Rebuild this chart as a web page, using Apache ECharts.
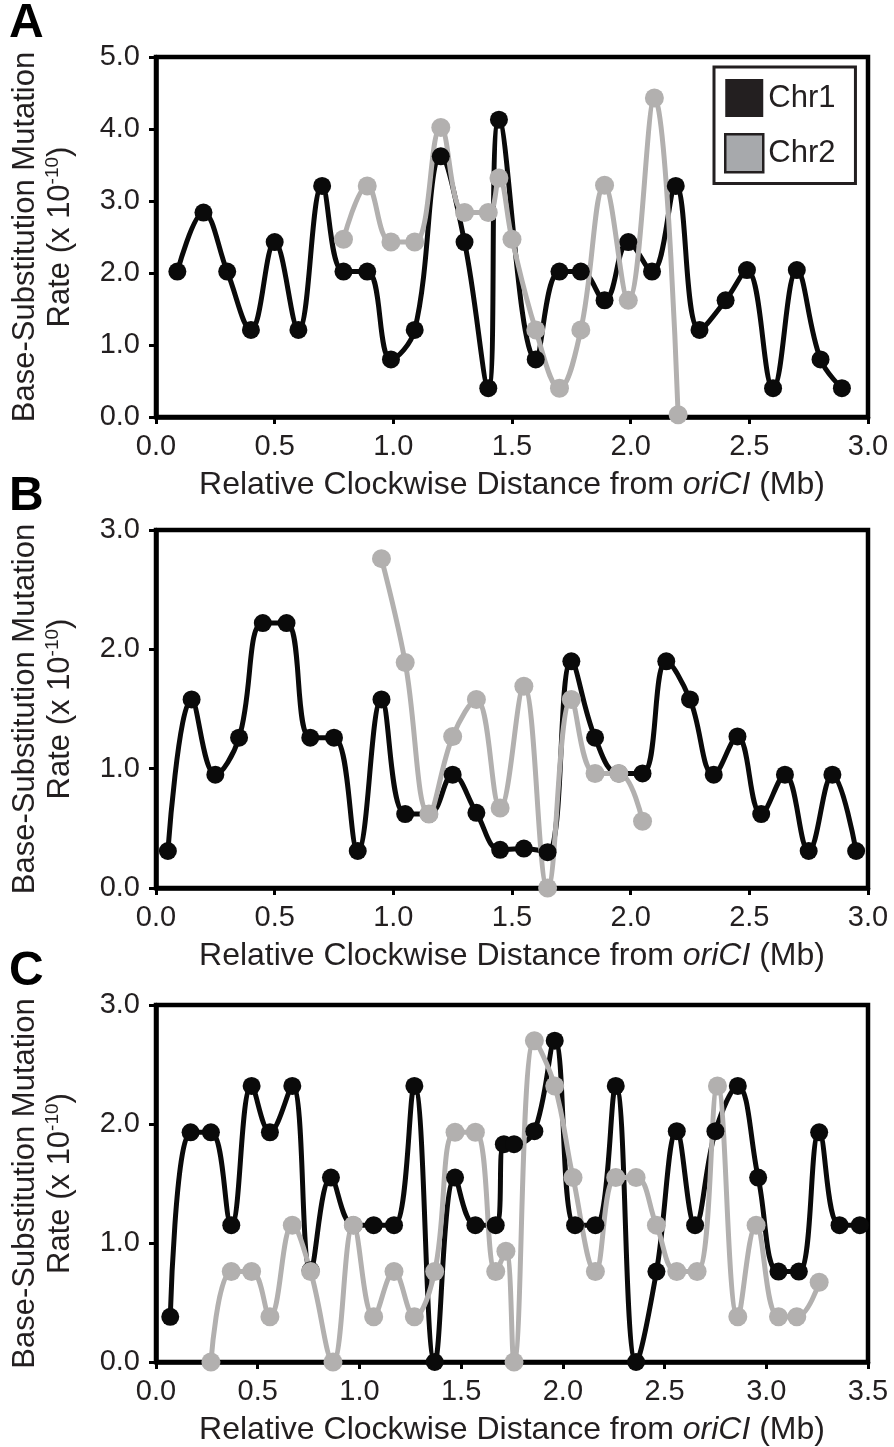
<!DOCTYPE html>
<html>
<head>
<meta charset="utf-8">
<script src="https://cdn.jsdelivr.net/npm/echarts@6/dist/echarts.min.js"></script>
<style>
html,body{margin:0;padding:0;background:#fff;}
#chart{width:894px;height:1447px;}
</style>
</head>
<body>
<div id="chart"></div>
<script>
// ---------- Data ----------
const seriesNames = ['Chr1', 'Chr2'];

// Panel A
const aChr1X = [0.09,0.2,0.3,0.4,0.5,0.6,0.7,0.79,0.89,0.99,1.09,1.2,1.3,1.4,1.445,1.6,1.7,1.79,1.89,1.99,2.09,2.19,2.29,2.4,2.49,2.6,2.7,2.8,2.89];
const aChr1Y = [2.02,2.84,2.02,1.21,2.43,1.21,3.21,2.02,2.02,0.80,1.21,3.62,2.43,0.40,4.13,0.80,2.02,2.02,1.62,2.43,2.02,3.21,1.21,1.62,2.04,0.40,2.04,0.80,0.40];
const aChr2X = [0.79,0.89,0.99,1.09,1.2,1.3,1.4,1.445,1.5,1.6,1.7,1.79,1.89,1.99,2.1,2.2];
const aChr2Y = [2.47,3.21,2.43,2.43,4.02,2.84,2.84,3.32,2.47,1.21,0.40,1.21,3.22,1.62,4.43,0.03];

// Panel B
const bChr1X = [0.05,0.15,0.25,0.35,0.45,0.55,0.65,0.75,0.85,0.95,1.05,1.15,1.25,1.35,1.45,1.55,1.65,1.75,1.85,1.95,2.05,2.15,2.25,2.35,2.45,2.55,2.65,2.75,2.85,2.95];
const bChr1Y = [0.31,1.58,0.95,1.26,2.22,2.22,1.26,1.26,0.31,1.58,0.62,0.62,0.95,0.63,0.32,0.33,0.30,1.90,1.26,0.96,0.96,1.90,1.58,0.95,1.27,0.62,0.95,0.31,0.95,0.31];
const bChr2X = [0.95,1.05,1.15,1.25,1.35,1.45,1.55,1.65,1.75,1.85,1.95,2.05];
const bChr2Y = [2.76,1.89,0.62,1.27,1.58,0.67,1.69,0.0,1.58,0.96,0.96,0.56];

// Panel C
const cChr1X = [0.07,0.17,0.27,0.37,0.47,0.56,0.67,0.76,0.86,0.97,1.07,1.17,1.27,1.37,1.47,1.57,1.67,1.71,1.76,1.86,1.96,2.06,2.16,2.26,2.36,2.46,2.56,2.65,2.75,2.86,2.96,3.06,3.16,3.26,3.36,3.46];
const cChr1Y = [0.38,1.93,1.93,1.15,2.32,1.93,2.32,0.77,1.55,1.15,1.15,1.15,2.32,0.0,1.55,1.15,1.15,1.83,1.83,1.94,2.70,1.15,1.15,2.32,0.0,0.76,1.94,1.15,1.94,2.32,1.55,0.76,0.76,1.93,1.15,1.15];
const cChr2X = [0.27,0.37,0.47,0.56,0.67,0.76,0.87,0.97,1.07,1.17,1.27,1.37,1.47,1.57,1.67,1.72,1.76,1.86,1.96,2.05,2.16,2.26,2.36,2.46,2.56,2.66,2.76,2.86,2.95,3.06,3.15,3.26];
const cChr2Y = [0.0,0.76,0.76,0.38,1.15,0.76,0.0,1.15,0.38,0.76,0.38,0.76,1.93,1.93,0.76,0.93,0.0,2.70,2.32,1.55,0.76,1.55,1.55,1.15,0.76,0.76,2.32,0.38,1.15,0.38,0.38,0.67];

// Axis ranges / ticks
const xMaxes = [3.0, 3.0, 3.5];
const yMaxes = [5.0, 3.0, 3.0];
const tickStep = { x: 0.5, y: 1.0 };
const panelLetters = ['A', 'B', 'C'];
const xTitle = 'Relative Clockwise Distance from {i|oriCI} (Mb)';
const yTitle = 'Base-Substitution Mutation\nRate (x 10{sup|-10})';

// ---------- Styles ----------
const FONT = '"Liberation Sans", Arial, sans-serif';
const INK = '#231f20';
const BLACK = '#0a0a0a';
const GRAY = '#b2b0af';

const zip = (xs, ys) => xs.map((x, i) => [x, ys[i]]);
const panels = [
  [zip(aChr1X, aChr1Y), zip(aChr2X, aChr2Y)],
  [zip(bChr1X, bChr1Y), zip(bChr2X, bChr2Y)],
  [zip(cChr1X, cChr1Y), zip(cChr2X, cChr2Y)]
];

const grids = [
  { left: 155, top: 57, width: 713, height: 360 },
  { left: 155, top: 530, width: 713, height: 358 },
  { left: 155, top: 1005, width: 713, height: 357 }
].map(g => Object.assign(g, { show: true, borderColor: '#000', borderWidth: 4.5, backgroundColor: 'transparent' }));

const xAxes = xMaxes.map((mx, i) => ({
  type: 'value', gridIndex: i, min: 0, max: mx, interval: tickStep.x,
  axisLine: { show: true, onZero: false, lineStyle: { color: '#000', width: 4.5 } },
  axisTick: { show: true, inside: false, length: 7, lineStyle: { color: '#000', width: 3 } },
  axisLabel: { margin: 15, fontSize: 29, fontFamily: FONT, color: INK, formatter: v => v.toFixed(1), showMinLabel: true, showMaxLabel: true },
  splitLine: { show: false },
  name: xTitle, nameLocation: 'middle', nameGap: 52,
  nameTextStyle: { fontSize: 32, fontFamily: FONT, color: INK,
    rich: { i: { fontSize: 32, fontFamily: FONT, fontStyle: 'italic', color: INK } } }
}));

const yAxes = yMaxes.map((mx, i) => ({
  type: 'value', gridIndex: i, min: 0, max: mx, interval: tickStep.y,
  axisLine: { show: true, onZero: false, lineStyle: { color: '#000', width: 4.5 } },
  axisTick: { show: true, inside: false, length: 7, lineStyle: { color: '#000', width: 3 } },
  axisLabel: { margin: 16, fontSize: 29, fontFamily: FONT, color: INK, formatter: v => v.toFixed(1), showMinLabel: true, showMaxLabel: true },
  splitLine: { show: false },
  name: yTitle, nameLocation: 'middle', nameRotate: 90, nameGap: 78,
  nameTextStyle: { fontSize: 31, lineHeight: 35, fontFamily: FONT, color: INK, align: 'center',
    rich: { sup: { fontSize: 19, lineHeight: 19, verticalAlign: 'top', fontFamily: FONT, color: INK } } }
}));

const series = [];
panels.forEach((pair, i) => {
  pair.forEach((data, k) => {
    series.push({
      name: seriesNames[k], type: 'line', xAxisIndex: i, yAxisIndex: i,
      data: data, smooth: 0.4, clip: false,
      symbol: 'circle', symbolSize: k === 0 ? 18 : 19,
      lineStyle: { color: k === 0 ? BLACK : GRAY, width: 5 },
      itemStyle: { color: k === 0 ? BLACK : GRAY },
      emphasis: { disabled: true },
      animation: false
    });
  });
});

const letterY = [24, 497, 972];
const graphics = panelLetters.map((t, i) => ({
  type: 'text', x: 9, y: letterY[i],
  style: { text: t, font: 'bold 48px ' + FONT, fill: '#000', verticalAlign: 'middle', align: 'left' }
}));

const chart = echarts.init(document.getElementById('chart'), null, { renderer: 'canvas' });
chart.setOption({
  backgroundColor: '#fff',
  animation: false,
  grid: grids,
  xAxis: xAxes,
  yAxis: yAxes,
  legend: {
    orient: 'vertical', left: 714, top: 67,
    padding: [12, 20, 10, 10],
    backgroundColor: '#fff', borderColor: INK, borderWidth: 3,
    itemWidth: 38, itemHeight: 38, itemGap: 16,
    icon: 'rect',
    selectedMode: false,
    textStyle: { fontSize: 31, fontFamily: FONT, color: INK, padding: [0, 0, 0, 0] },
    data: [
      { name: 'Chr1', icon: 'rect', itemStyle: { color: INK, borderWidth: 0 } },
      { name: 'Chr2', icon: 'rect', itemStyle: { color: '#a7a9ac', borderColor: INK, borderWidth: 2.5 } }
    ]
  },
  graphic: graphics,
  series: series
});
</script>
</body>
</html>
